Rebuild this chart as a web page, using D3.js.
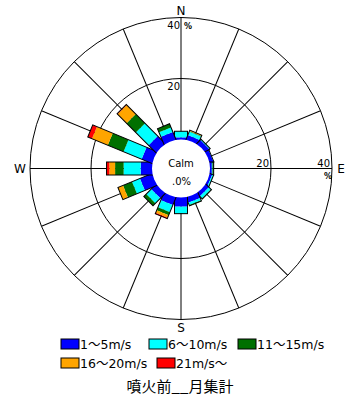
<!DOCTYPE html>
<html>
<head>
<meta charset="utf-8">
<script src="https://cdn.jsdelivr.net/npm/d3@7"></script>
<style>
  body { margin: 0; background: #fff; }
  svg { display: block; }
  text { font-family: "DejaVu Sans", "Noto Sans CJK JP", sans-serif; fill: #000; }
</style>
</head>
<body>
<div id="chart"></div>
<script>
// 16 compass directions, clockwise from north
const directions = ["N", "NNE", "NE", "ENE", "E", "ESE", "SE", "SSE",
                    "S", "SSW", "SW", "WSW", "W", "WNW", "NW", "NNW"];

// frequency (%) per speed class, one value per direction
const speed1to5   = [0.7, 1.5, 1.6, 1.2, 0.6, 0.7, 1.3, 1.8, 3.0, 2.6, 2.2, 4.2, 3.7, 3.6, 3.4, 2.6];
const speed6to10  = [2.0, 1.2, 0.3, 0.1, 0.2, 0.5, 1.0, 0.8, 2.2, 2.5, 2.3, 2.8, 5.6, 6.4, 5.9, 1.6];
const speed11to15 = [0.0, 0.2, 0.0, 0.0, 0.4, 0.0, 0.2, 0.3, 0.1, 1.1, 1.1, 3.2, 2.8, 5.6, 4.3, 1.3];
const speed16to20 = [0.0, 0.3, 0.0, 0.0, 0.0, 0.0, 0.0, 0.0, 0.0, 0.9, 0.0, 1.8, 1.9, 5.6, 4.2, 0.0];
const speed21up   = [0.0, 0.0, 0.0, 0.0, 0.0, 0.0, 0.0, 0.0, 0.0, 0.3, 0.0, 0.0, 0.9, 1.5, 0.2, 0.0];

const speedLabels = ["1～5m/s", "6～10m/s", "11～15m/s", "16～20m/s", "21m/s～"];
const speedColors = ["#0000ff", "#00ffff", "#007000", "#ffa500", "#ff0000"];
const ringTicks = [20, 40];
const compassLabels = ["N", "E", "S", "W"];
const calmLabel = "Calm";
const calmValue = ".0%";
const title = "噴火前__月集計";

const width = 356;
const height = 404;
const cx = 181, cy = 168.5;
const r0 = 29, rMax = 151;
const barWidth = 13;

const series = [speed1to5, speed6to10, speed11to15, speed16to20, speed21up];

const r = d3.scaleLinear().domain([0, 40]).range([r0, rMax]);
const angle = d3.scalePoint().domain(directions).range([0, 360 - 22.5]);

const svg = d3.select("#chart")
    .append("svg")
    .attr("width", width)
    .attr("height", height);

const g = svg.append("g")
    .attr("transform", "translate(" + cx + "," + cy + ")");

// rings
g.selectAll(".ring")
    .data(ringTicks)
    .enter()
    .append("circle")
    .attr("r", d => r(d))
    .attr("fill", "none")
    .attr("stroke", "#000")
    .attr("stroke-width", 1);

// spokes
g.selectAll(".spoke")
    .data(directions)
    .enter()
    .append("line")
    .attr("transform", d => "rotate(" + angle(d) + ")")
    .attr("y1", -r(0))
    .attr("y2", -rMax)
    .attr("stroke", "#000")
    .attr("stroke-width", 1);

// stacked bars
const stacked = directions.map((d, i) => {
    let cum = 0;
    const segs = series.map((s, k) => {
        const seg = { k: k, start: cum, end: cum + s[i] };
        cum += s[i];
        return seg;
    });
    return { dir: d, total: cum, segs: segs };
});

const bars = g.selectAll(".bar")
    .data(stacked)
    .enter()
    .append("g")
    .attr("class", "bar")
    .attr("transform", d => "rotate(" + angle(d.dir) + ")");

bars.selectAll("rect.seg")
    .data(d => d.segs.filter(s => s.end > s.start))
    .enter()
    .append("rect")
    .attr("class", "seg")
    .attr("x", -barWidth / 2)
    .attr("width", barWidth)
    .attr("y", d => -r(d.end))
    .attr("height", d => r(d.end) - (d.k === 0 ? r(0) - 4 : r(d.start)))
    .attr("fill", d => speedColors[d.k]);

bars.append("rect")
    .attr("x", -barWidth / 2)
    .attr("width", barWidth)
    .attr("y", d => -r(d.total))
    .attr("height", d => r(d.total) - r(0) + 4)
    .attr("fill", "none")
    .attr("stroke", "#000")
    .attr("stroke-width", 1);

// calm circle
g.append("circle")
    .attr("r", r0)
    .attr("fill", "#fff");

g.append("text")
    .attr("x", 0)
    .attr("y", -2)
    .attr("text-anchor", "middle")
    .attr("font-size", "10px")
    .text(calmLabel);

g.append("text")
    .attr("x", -9)
    .attr("y", 16)
    .attr("font-size", "10px")
    .text(calmValue);

// ring labels along north and east
g.selectAll(".nlab")
    .data(ringTicks)
    .enter()
    .append("text")
    .attr("x", -1)
    .attr("y", d => -r(d) + 11)
    .attr("text-anchor", "end")
    .attr("font-size", "10px")
    .text(d => d);

g.selectAll(".elab")
    .data(ringTicks)
    .enter()
    .append("text")
    .attr("x", d => r(d) - 2)
    .attr("y", -2)
    .attr("text-anchor", "end")
    .attr("font-size", "10px")
    .text(d => d);

g.append("text")
    .attr("x", 3)
    .attr("y", -rMax + 11)
    .attr("font-size", "8px")
    .attr("font-weight", "bold")
    .text("%");

g.append("text")
    .attr("x", rMax - 8)
    .attr("y", 10)
    .attr("font-size", "8px")
    .attr("font-weight", "bold")
    .text("%");

// compass letters
const compassPos = [[0, -rMax - 7], [rMax + 9, 0], [0, rMax + 8], [-rMax - 10, 0]];
g.selectAll(".compass")
    .data(compassLabels)
    .enter()
    .append("text")
    .attr("x", (d, i) => compassPos[i][0])
    .attr("y", (d, i) => compassPos[i][1])
    .attr("dy", "0.35em")
    .attr("text-anchor", "middle")
    .attr("font-size", "12px")
    .text(d => d);

// legend
const legendPos = [[61, 339], [149, 339], [238, 339], [61, 358], [157, 358]];
const legend = svg.selectAll(".legend")
    .data(speedLabels)
    .enter()
    .append("g")
    .attr("transform", (d, i) => "translate(" + legendPos[i][0] + "," + legendPos[i][1] + ")");

legend.append("rect")
    .attr("width", 18)
    .attr("height", 10)
    .attr("fill", (d, i) => speedColors[i])
    .attr("stroke", "#000")
    .attr("stroke-width", 1);

legend.append("text")
    .attr("x", 19)
    .attr("y", 10)
    .attr("font-size", "12.5px")
    .text(d => d);

svg.append("text")
    .attr("x", 180)
    .attr("y", 392)
    .attr("text-anchor", "middle")
    .attr("font-size", "15px")
    .style("font-family", "'Noto Sans CJK JP', sans-serif")
    .text(title);
</script>
</body>
</html>
